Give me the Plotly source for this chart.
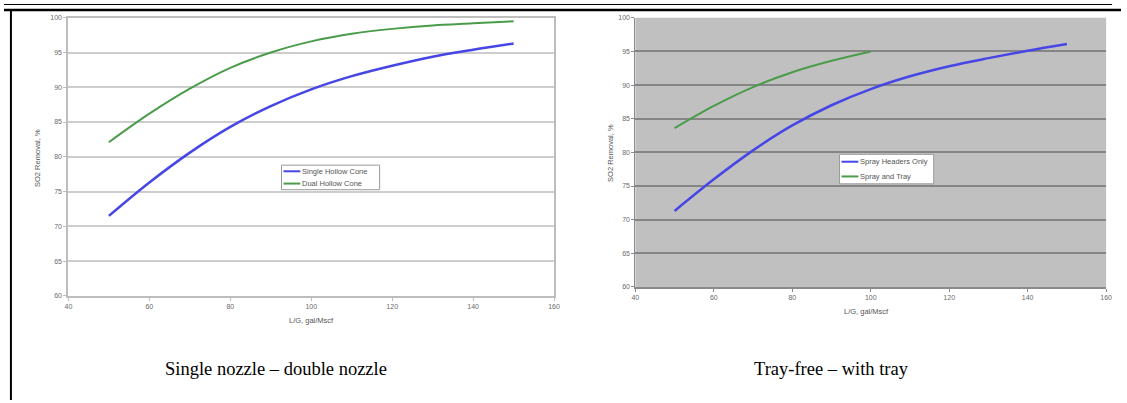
import plotly.graph_objects as go

W, H = 1127, 403

# L/G ratio (gal/Mscf) and SO2 removal (%) for each configuration
lg_nozzle = [50, 60, 70, 80, 90, 100, 110, 120, 130, 140, 150]
single_hollow_cone = [71.5, 76.3, 80.6, 84.3, 87.3, 89.7, 91.6, 93.1, 94.4, 95.4, 96.3]
dual_hollow_cone = [82.1, 86.2, 89.8, 92.8, 95.0, 96.6, 97.7, 98.4, 98.9, 99.2, 99.5]

lg_headers = [50, 60, 70, 80, 90, 100, 110, 120, 130, 140, 150]
spray_headers_only = [71.3, 76.0, 80.3, 84.0, 87.0, 89.4, 91.3, 92.8, 94.0, 95.1, 96.1]
lg_tray = [50, 60, 70, 80, 90, 100]
spray_and_tray = [83.6, 86.9, 89.7, 91.9, 93.6, 95.0]

x_ticks = [40, 60, 80, 100, 120, 140, 160]
y_ticks = [60, 65, 70, 75, 80, 85, 90, 95, 100]
captions = ["Single nozzle – double nozzle", "Tray-free – with tray"]
x_title = "L/G, gal/Mscf"
y_title = "SO2 Removal, %"

BLUE = "#4646e6"
GREEN = "#4a9c4a"


def px(x):
    return x / W


def py(y):
    return 1 - y / H


fig = go.Figure()

panels = [
    dict(axes=("x", "y"), series=[
        ("Single Hollow Cone", lg_nozzle, single_hollow_cone, BLUE, 2.5),
        ("Dual Hollow Cone", lg_nozzle, dual_hollow_cone, GREEN, 2.0)],
        legend_box=(280, 164, 379, 189)),
    dict(axes=("x2", "y2"), series=[
        ("Spray Headers Only", lg_headers, spray_headers_only, BLUE, 2.5),
        ("Spray and Tray", lg_tray, spray_and_tray, GREEN, 2.0)],
        legend_box=(843, 153, 938, 183)),
]

for panel in panels:
    xa, ya = panel["axes"]
    for name, xs, ys, color, width in panel["series"]:
        fig.add_trace(go.Scatter(x=xs, y=ys, name=name, mode="lines",
                                 line=dict(color=color, width=width, shape="spline"),
                                 xaxis=xa, yaxis=ya, showlegend=False))

tick_font = dict(family="Liberation Sans, Arial, sans-serif", size=7, color="#6a6a6a")

common_x = dict(range=[40, 160], tickvals=x_ticks, showgrid=False, zeroline=False,
                ticks="outside", ticklen=3, tickfont=tick_font, fixedrange=True)
common_y = dict(range=[60, 100], tickvals=y_ticks, zeroline=False,
                ticks="outside", ticklen=3, tickfont=tick_font, fixedrange=True)

fig.update_layout(
    width=W, height=H,
    margin=dict(l=0, r=0, t=0, b=0),
    paper_bgcolor="white",
    plot_bgcolor="white",
    showlegend=False,
    xaxis=dict(domain=[px(65), px(555)], anchor="y", showline=True, linecolor="#bdbdbd",
               linewidth=2, tickcolor="#bdbdbd", mirror=True, **common_x),
    yaxis=dict(domain=[py(297), py(14)], anchor="x", showline=True, linecolor="#bdbdbd",
               linewidth=2, tickcolor="#bdbdbd", mirror=True, showgrid=True,
               gridcolor="#cdcdcd", gridwidth=2, **common_y),
    xaxis2=dict(domain=[px(637), px(1112)], anchor="y2", showline=True, linecolor="#8a8a8a",
                linewidth=1.5, tickcolor="#8a8a8a", **common_x),
    yaxis2=dict(domain=[py(288), py(14)], anchor="x2", showline=True, linecolor="#8a8a8a",
                linewidth=1, tickcolor="#8a8a8a", showgrid=True,
                gridcolor="#858585", gridwidth=1.5, **common_y),
)

# grey plotting area of the second chart
fig.add_shape(type="rect", xref="x2 domain", yref="y2 domain", x0=0, x1=1, y0=0, y1=1,
              fillcolor="#c0c0c0", line=dict(width=0), layer="below")

title_font = dict(family="Liberation Sans, Arial, sans-serif", size=7.5, color="#555")
legend_font = dict(family="Liberation Sans, Arial, sans-serif", size=7.5, color="#555")
annotations = []


def label(x, y, text, font, angle=0, xanchor="center"):
    annotations.append(dict(x=px(x), y=py(y), text=text, showarrow=False, font=font,
                            textangle=angle, xref="paper", yref="paper",
                            xanchor=xanchor, yanchor="middle"))


# compact legends: framed box with a short line sample per series
for panel in panels:
    x0, y0, x1, y1 = panel["legend_box"]
    fig.add_shape(type="rect", xref="paper", yref="paper", x0=px(x0), x1=px(x1),
                  y0=py(y1), y1=py(y0), fillcolor="white",
                  line=dict(color="#9a9a9a", width=1))
    n = len(panel["series"])
    row_h = (y1 - y0) / n
    for i, (name, _, _, color, width) in enumerate(panel["series"]):
        yc = y0 + row_h * (i + 0.5)
        fig.add_shape(type="line", xref="paper", yref="paper", x0=px(x0 + 2), x1=px(x0 + 19),
                      y0=py(yc), y1=py(yc), line=dict(color=color, width=2))
        label(x0 + 19, yc, name, legend_font, xanchor="left")

label(310, 322, x_title, title_font)
label(870, 313, x_title, title_font)
label(34, 157, y_title, title_font, angle=-90)
label(612, 152, y_title, title_font, angle=-90)

caption_font = dict(family="Liberation Serif, Times New Roman, serif", size=18.5, color="black")
label(274, 371, captions[0], caption_font)
label(835, 371, captions[1], caption_font)
fig.update_layout(annotations=annotations)

# table rules framing the two panels
fig.add_shape(type="line", xref="paper", yref="paper", x0=0, x1=px(1118), y0=py(0.5), y1=py(0.5),
              line=dict(color="black", width=1))
fig.add_shape(type="line", xref="paper", yref="paper", x0=0, x1=1, y0=py(6), y1=py(6),
              line=dict(color="black", width=2.5))
fig.add_shape(type="line", xref="paper", yref="paper", x0=px(7), x1=px(7), y0=py(6), y1=0,
              line=dict(color="black", width=2))

fig.write_html("out.html")
